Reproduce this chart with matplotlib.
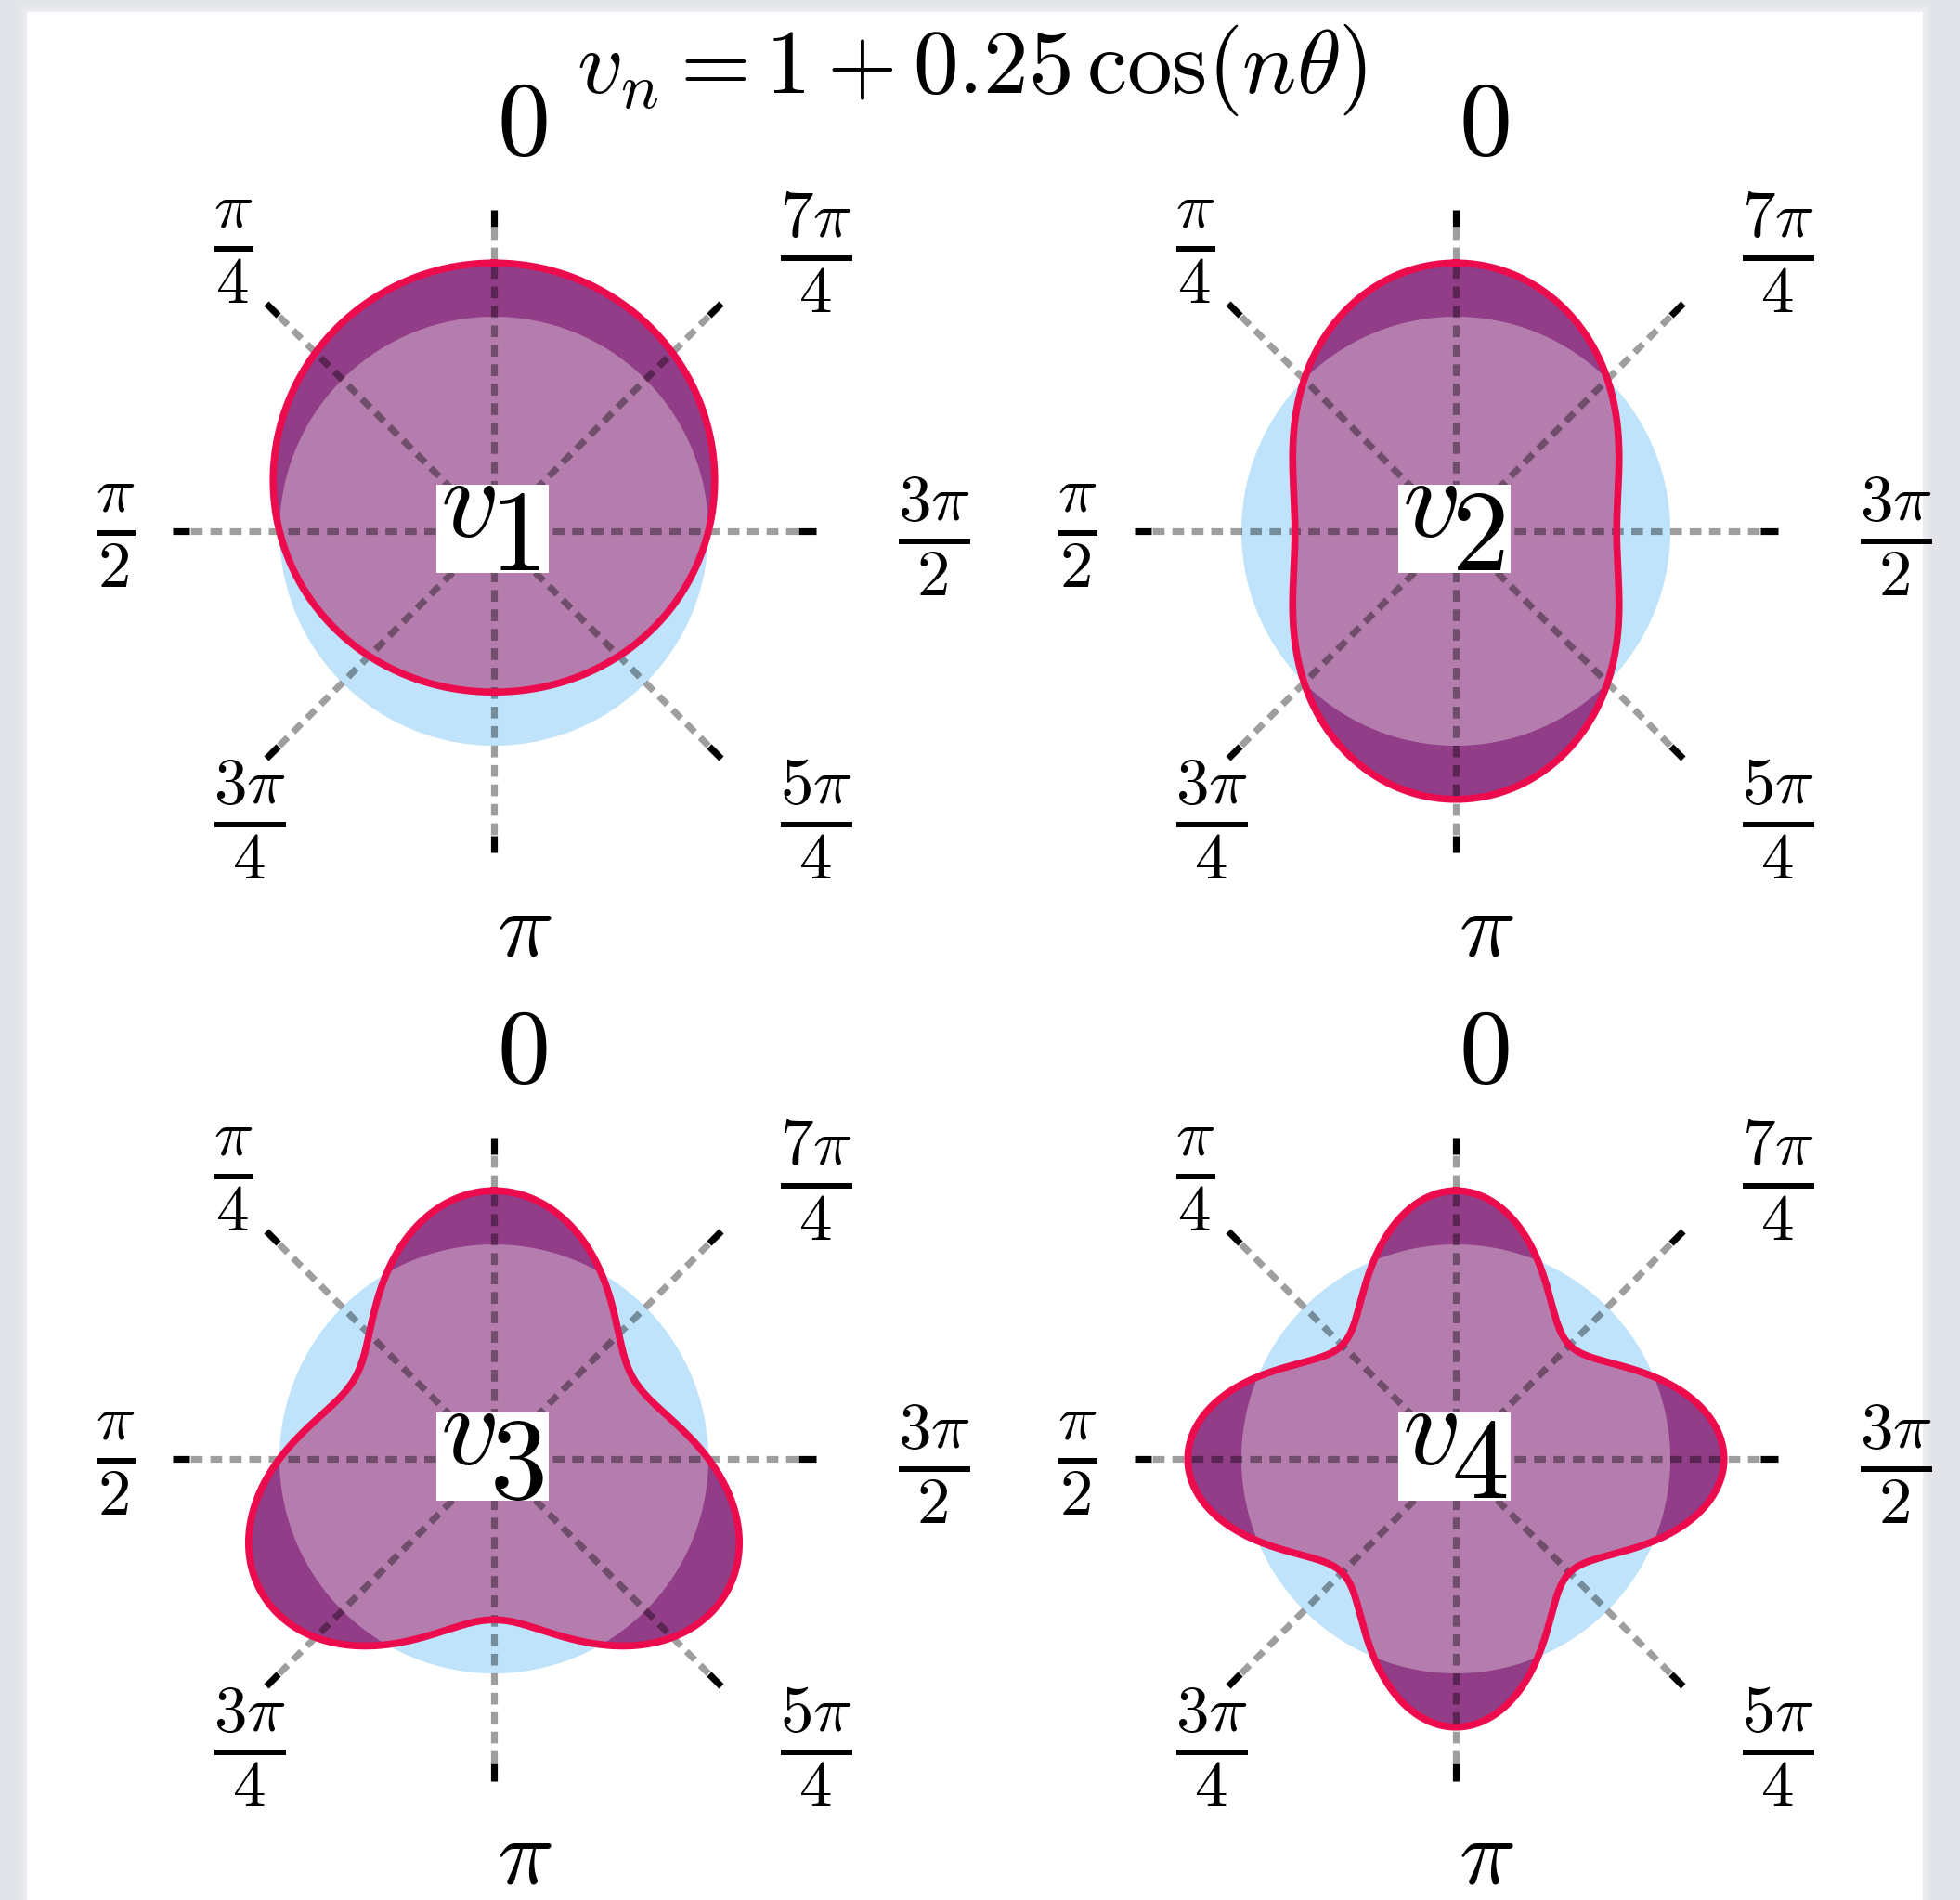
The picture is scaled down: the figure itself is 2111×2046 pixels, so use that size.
import matplotlib
matplotlib.use("Agg")
import matplotlib.pyplot as plt
import matplotlib.transforms as mtransforms
from matplotlib.patches import Rectangle
import numpy as np

plt.rcParams['mathtext.fontset'] = 'cm'
plt.rcParams['font.family'] = ['DejaVu Serif']

# flow harmonics v_n = base + amp * cos(n theta)
orders = [1, 2, 3, 4]
base = 1.0
amp = 0.25

spoke_angles = [0, np.pi/4, np.pi/2, 3*np.pi/4, np.pi, 5*np.pi/4, 3*np.pi/2, 7*np.pi/4]
spoke_labels = [r"$0$", r"$\frac{\pi}{4}$", r"$\frac{\pi}{2}$", r"$\frac{3\pi}{4}$",
                r"$\pi$", r"$\frac{5\pi}{4}$", r"$\frac{3\pi}{2}$", r"$\frac{7\pi}{4}$"]

W, H, DPI = 2111, 2046, 100
fig = plt.figure(figsize=(W/DPI, H/DPI), dpi=DPI)
fig.set_facecolor('#e3e4e9')

# white card with a soft edge
for k, a in enumerate([0.25, 0.45, 0.7]):
    grow = (3 - k) * 3
    fig.patches.append(Rectangle(((29 - grow)/W, 0), (2042 + 2*grow)/W, (2033 + grow)/H,
                                 transform=fig.transFigure, facecolor='#eceef1', alpha=a,
                                 edgecolor='none', zorder=-3))
fig.patches.append(Rectangle((29/W, 0), 2042/W, 2033/H, transform=fig.transFigure,
                             facecolor='white', edgecolor='none', zorder=-2))

fig.text(1047/W, 1 - 100/H, r"$v_n = 1 + 0.25\,\cos(n\theta)$", fontsize=70,
         ha='center', va='baseline')

centers = [(532, 572), (1568, 572), (532, 1571), (1568, 1571)]
half = 346.5  # r = 1.5 in pixels

theta = np.linspace(0, 2*np.pi, 721)
circle = np.ones_like(theta)

for n, (cx, cy) in zip(orders, centers):
    ax = fig.add_axes([(cx - half)/W, 1 - (cy + half)/H, 2*half/W, 2*half/H],
                      projection='polar')
    ax.set_theta_zero_location('N')
    ax.set_ylim(0, 1.5)
    ax.axis('off')

    vn = base + amp*np.cos(n*theta)

    ax.fill(theta, circle, color='#bee3fb', lw=0, zorder=1)
    ax.fill(theta, vn, color='#923d87', lw=0, zorder=2)
    ax.fill(theta, np.minimum(vn, circle), color='#b57dae', lw=0, zorder=3)

    for ang in spoke_angles:
        ax.plot([ang, ang], [0, 1.42], color='black', alpha=0.38, lw=5.2,
                linestyle=(0, (1.75, 1.15)), dash_capstyle='butt', zorder=4, clip_on=False)
        ax.plot([ang, ang], [1.42, 1.5], color='black', lw=5.2,
                solid_capstyle='butt', zorder=4, clip_on=False)

    ax.plot(theta, vn, color='#ec0b4c', lw=5.5, zorder=5)

    # angle labels, left-aligned on a ring outside the spokes
    lab_trans = mtransforms.offset_copy(ax.transData, fig=fig, x=3, y=-5, units='dots')
    for ang, lab in zip(spoke_angles, spoke_labels):
        rr, fs = 1.87, 73
        if lab == r"$0$":
            rr, fs = 1.91, 82
        elif lab == r"$\pi$":
            rr = 1.84
        ax.text(ang, rr, lab, transform=lab_trans, fontsize=fs,
                ha='left', va='center', clip_on=False)

    # label box at the centre
    ctr = mtransforms.Affine2D() + mtransforms.ScaledTranslation(0.5, 0.5, ax.transAxes)
    ax.add_patch(Rectangle((-62, -45), 121, 95, transform=ctr, facecolor='white',
                           edgecolor='none', zorder=6, clip_on=False))
    ax.text(0.5, 0.5, r"$v$", fontsize=89, ha='left', va='baseline', zorder=7,
            transform=mtransforms.offset_copy(ax.transAxes, fig=fig, x=-58, y=-6, units='dots'))
    ax.text(0.5, 0.5, r"$%d$" % n, fontsize=89, ha='left', va='baseline', zorder=7,
            transform=mtransforms.offset_copy(ax.transAxes, fig=fig, x=-5, y=-42, units='dots'))

fig.savefig("out.png", dpi=DPI, facecolor=fig.get_facecolor())
